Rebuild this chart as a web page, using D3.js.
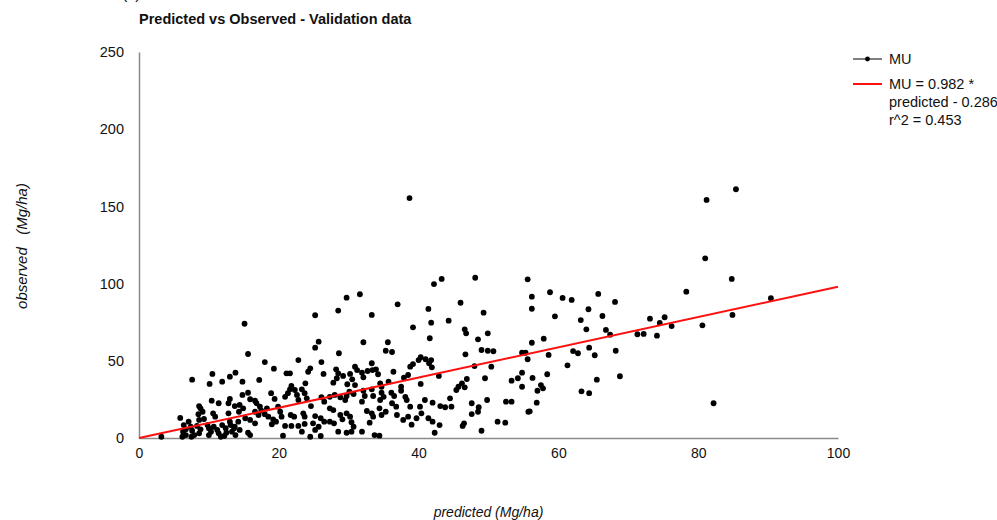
<!DOCTYPE html>
<html>
<head>
<meta charset="utf-8">
<script src="https://cdn.jsdelivr.net/npm/d3@7"></script>
<style>
  body { margin: 0; background: #fff; }
  text { font-family: "Liberation Sans", Arial, Helvetica, sans-serif; fill: #111; }
</style>
</head>
<body>
<div id="chart"></div>
<script>
// values: [predicted, observed] in Mg/ha
const observations = [
  [7.6,37.8],[10.5,41.5],[10.1,35.0],[11.9,36.5],[13.0,39.7],[13.8,42.3],[10.4,24.2],[11.4,22.5],[13.0,25.3],[12.8,22.5],
  [8.6,20.7],[8.8,19.2],[9.1,17.0],[8.5,15.4],[10.6,16.0],[10.9,13.8],[12.8,16.0],[13.0,10.6],[5.9,13.0],[7.1,10.6],
  [8.6,11.7],[9.3,12.3],[6.4,8.4],[6.7,5.6],[6.3,4.1],[7.4,7.3],[7.6,4.7],[7.9,1.9],[7.5,0.8],[8.3,7.8],
  [8.8,5.6],[8.6,3.0],[9.8,8.4],[10.0,6.3],[10.3,4.1],[10.0,1.9],[10.7,7.3],[11.2,5.2],[11.4,3.0],[11.7,0.8],
  [11.9,8.4],[12.4,6.3],[12.5,3.4],[12.2,1.3],[13.1,8.4],[13.3,4.1],[13.8,1.9],[13.6,6.3],[3.2,0.8],[6.2,0.8],[6.7,1.9],
  [15.1,74.0],[25.2,79.5],[25.7,62.4],[25.2,58.5],[15.6,54.4],[18.0,49.2],[19.3,44.9],[22.8,50.5],[26.1,49.2],[21.1,41.9],
  [21.6,41.9],[24.5,45.1],[24.2,42.9],[26.4,41.5],[14.8,36.5],[17.2,37.6],[23.8,35.4],[14.8,27.9],[15.6,29.3],[15.9,25.1],
  [16.6,24.2],[18.9,29.0],[19.4,25.3],[20.9,26.7],[21.3,29.0],[21.6,31.5],[21.8,33.7],[22.3,31.1],[22.6,27.9],[22.8,24.6],
  [23.3,31.5],[23.7,29.0],[24.0,25.7],[24.6,20.7],[26.1,26.4],[26.5,23.5],[13.7,20.7],[14.4,21.4],[14.9,19.2],[14.3,17.0],
  [16.8,22.5],[17.3,20.3],[17.5,17.7],[17.1,14.9],[16.6,17.0],[18.3,19.2],[18.0,15.4],[18.5,13.8],[19.9,20.3],[20.2,17.0],
  [20.4,13.8],[19.2,12.1],[19.6,10.6],[21.7,14.9],[22.2,13.8],[23.5,16.0],[23.7,13.8],[25.2,14.2],[26.0,12.8],[26.5,10.6],
  [14.2,10.6],[15.2,12.8],[15.9,11.7],[16.6,9.5],[13.7,7.3],[14.4,5.2],[15.6,3.4],[15.9,1.9],[19.0,8.9],[20.9,7.8],
  [21.8,7.8],[22.8,7.8],[23.7,9.1],[24.9,9.5],[25.7,7.3],[25.2,5.2],[20.6,1.5],[23.3,4.1],[24.5,0.8],[26.0,1.3],
  [29.7,90.9],[31.6,93.1],[28.5,82.5],[33.3,79.7],[37.0,86.6],[39.2,71.7],[32.1,62.0],[28.6,54.9],[35.6,62.0],[35.3,56.5],
  [36.2,55.7],[28.2,44.5],[28.5,41.9],[29.2,40.2],[28.3,38.7],[27.8,35.8],[30.2,41.5],[30.5,38.0],[29.8,34.8],[30.9,34.3],
  [30.9,46.2],[31.2,44.0],[31.9,42.3],[32.1,39.3],[32.7,43.4],[33.4,44.0],[33.3,48.4],[33.9,44.5],[34.2,41.3],[34.5,35.4],
  [34.7,33.2],[36.4,42.9],[38.8,46.2],[39.2,47.9],[40.0,50.5],[40.3,52.3],[38.5,40.8],[37.9,39.1],[40.3,35.0],[33.5,27.2],
  [34.7,29.3],[35.0,26.7],[34.5,24.6],[36.1,29.3],[36.5,27.2],[36.2,22.5],[36.8,20.3],[38.1,26.7],[38.3,24.6],[38.8,20.3],
  [40.2,20.3],[40.9,24.6],[33.3,16.0],[33.5,13.8],[33.0,9.9],[34.4,19.2],[34.7,14.9],[35.3,17.0],[36.9,14.9],[37.8,11.7],
  [38.5,13.8],[39.0,8.6],[39.7,12.8],[40.4,16.0],[33.7,1.9],[34.4,1.5],[27.3,26.7],[28.0,27.9],[28.8,26.4],[29.5,24.6],
  [29.7,27.2],[30.1,30.0],[30.7,28.5],[32.1,30.6],[32.3,27.2],[31.9,23.5],[27.3,19.2],[27.8,18.1],[28.8,14.9],[29.1,12.1],
  [29.7,16.0],[30.2,13.8],[30.4,10.2],[30.7,7.3],[32.6,17.5],[27.3,10.6],[27.9,9.5],[28.5,4.1],[29.7,3.4],[30.4,4.1],
  [31.9,4.1],[35.7,36.5],[33.3,31.5],[37.5,33.2],[37.5,30.6],[38.7,155.4],
  [42.2,99.7],[43.3,103.0],[48.1,103.8],[55.6,102.8],[41.4,83.6],[46.0,87.6],[49.3,81.2],[41.8,74.7],[44.3,76.0],[46.6,70.4],
  [46.8,67.8],[49.9,67.8],[41.6,64.6],[48.5,63.9],[49.0,57.0],[49.9,56.5],[50.7,56.2],[46.7,54.2],[41.0,51.0],[41.8,50.5],
  [41.5,48.4],[41.9,45.8],[54.8,55.2],[55.3,55.2],[48.0,46.6],[50.4,46.2],[42.9,40.2],[49.5,38.7],[46.9,38.2],[46.2,35.4],
  [45.7,33.2],[45.4,31.1],[46.6,32.8],[53.3,37.1],[54.2,38.7],[54.8,42.3],[54.8,33.2],[44.5,25.7],[42.0,22.9],[43.1,20.7],
  [43.8,19.9],[44.7,20.3],[47.6,22.5],[48.6,19.9],[48.5,17.0],[47.6,15.5],[49.8,24.6],[52.5,23.5],[53.3,23.5],[41.4,12.8],
  [42.0,10.6],[43.0,8.4],[46.5,9.5],[46.3,7.8],[42.3,3.4],[49.0,4.7],[51.3,10.6],[52.4,9.9],[55.7,17.0],
  [56.2,91.5],[56.2,83.7],[58.8,94.4],[60.6,90.7],[61.9,89.4],[65.7,93.3],[68.1,88.1],[59.5,78.8],[64.3,83.4],[63.2,76.4],
  [66.3,79.0],[64.0,70.4],[66.8,70.0],[67.4,66.9],[71.3,67.2],[72.2,67.4],[56.2,61.7],[57.9,64.3],[55.6,51.0],[58.6,53.8],
  [62.1,56.3],[62.8,54.9],[64.4,58.5],[65.2,53.6],[68.2,56.5],[61.3,47.1],[56.3,38.9],[58.4,41.3],[57.5,34.3],[57.8,32.2],
  [57.0,30.6],[68.8,40.0],[65.5,37.8],[63.3,30.2],[64.4,29.0],[56.9,22.9],[55.9,17.3],
  [85.4,161.1],[81.2,154.2],[81.0,116.4],[84.8,103.0],[78.3,94.8],[90.4,90.5],[73.1,77.3],[74.5,74.5],[75.2,78.2],[76.2,72.5],
  [74.1,66.3],[80.6,73.0],[84.9,79.7],[82.2,22.5]
];

// fitted line MU = slope * predicted + intercept
const fitSlope = 0.982;
const fitIntercept = -0.286;
const fitRange = [0, 100];

const xTicks = [0, 20, 40, 60, 80, 100];
const yTicks = [0, 50, 100, 150, 200, 250];
const legendLabels = ["MU", "MU = 0.982 *", "predicted - 0.286", "r^2 = 0.453"];

// set the dimensions and margins of the graph
const margin = {top: 52, right: 159, bottom: 82, left: 139},
  width = 997 - margin.left - margin.right,
  height = 520 - margin.top - margin.bottom;

const svgRoot = d3.select("#chart")
  .append("svg")
  .attr("width", 997)
  .attr("height", 520);

const svg = svgRoot.append("g")
  .attr("transform", `translate(${margin.left},${margin.top})`);

const x = d3.scaleLinear().domain([0, 100]).range([0, width]);
const y = d3.scaleLinear().domain([0, 250]).range([height, 0]);

// panel letter, cut off at the top of the picture (as in the original)
svgRoot.append("text")
  .attr("x", 122)
  .attr("y", -1)
  .style("font-size", "16px")
  .text("(c)");

// title
svgRoot.append("text")
  .attr("x", margin.left)
  .attr("y", 24)
  .style("font-size", "14.5px")
  .style("font-weight", "bold")
  .text("Predicted vs Observed - Validation data");

// X axis
const xAxis = svg.append("g")
  .attr("transform", `translate(0,${height})`)
  .call(d3.axisBottom(x).tickValues(xTicks).tickSize(0).tickPadding(10));
xAxis.select(".domain").attr("stroke", "#8a8a8a").attr("stroke-width", 1.5);
xAxis.selectAll("text")
  .style("font-size", "14px")
  .style("fill", "#111")
  .style("font-family", "Liberation Sans, Arial, sans-serif");

// Y axis
const yAxis = svg.append("g")
  .call(d3.axisLeft(y).tickValues(yTicks).tickSize(0).tickPadding(15));
yAxis.select(".domain").attr("stroke", "#8a8a8a").attr("stroke-width", 1.5);
yAxis.selectAll("text")
  .style("font-size", "14.5px")
  .style("fill", "#111")
  .style("font-family", "Liberation Sans, Arial, sans-serif");

// axis titles
svgRoot.append("text")
  .attr("x", margin.left + width / 2)
  .attr("y", 517)
  .attr("text-anchor", "middle")
  .style("font-size", "14px")
  .style("font-style", "italic")
  .text("predicted (Mg/ha)");

svgRoot.append("text")
  .attr("transform", `translate(27,${margin.top + height / 2 + 1}) rotate(-90)`)
  .attr("text-anchor", "middle")
  .attr("xml:space", "preserve")
  .style("white-space", "pre")
  .style("font-size", "15px")
  .style("font-style", "italic")
  .text("observed   (Mg/ha)");

// points
svg.append("g")
  .selectAll("circle")
  .data(observations)
  .join("circle")
  .attr("cx", d => x(d[0]))
  .attr("cy", d => y(d[1]))
  .attr("r", 2.9)
  .attr("fill", "#000");

// fitted line
svg.append("line")
  .attr("x1", x(fitRange[0]))
  .attr("y1", y(Math.max(0, fitSlope * fitRange[0] + fitIntercept)))
  .attr("x2", x(fitRange[1]))
  .attr("y2", y(fitSlope * fitRange[1] + fitIntercept))
  .attr("stroke", "#ff1010")
  .attr("stroke-width", 2);

// legend
const legend = svgRoot.append("g").attr("transform", "translate(853,0)");
legend.append("line")
  .attr("x1", 0).attr("x2", 29).attr("y1", 59).attr("y2", 59)
  .attr("stroke", "#000").attr("stroke-width", 1);
legend.append("circle")
  .attr("cx", 14.5).attr("cy", 59).attr("r", 2.4).attr("fill", "#000");
legend.append("line")
  .attr("x1", 0).attr("x2", 29).attr("y1", 84).attr("y2", 84)
  .attr("stroke", "#ff1010").attr("stroke-width", 2);

const legendY = [64, 89, 107, 125];
legend.selectAll("text.lab")
  .data(legendLabels)
  .join("text")
  .attr("class", "lab")
  .attr("x", 36)
  .attr("y", (d, i) => legendY[i])
  .style("font-size", "14.5px")
  .text(d => d);
</script>
</body>
</html>
